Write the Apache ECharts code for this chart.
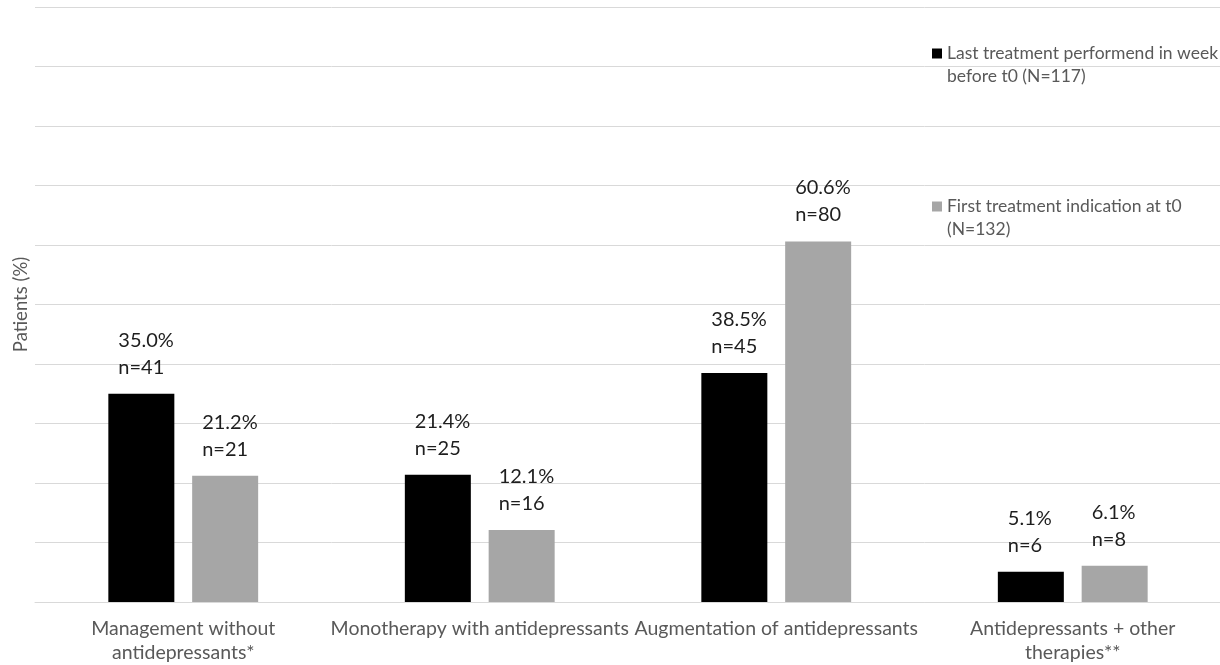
<!DOCTYPE html>
<html>
<head>
<meta charset="utf-8">
<script src="https://cdn.jsdelivr.net/npm/echarts@6/dist/echarts.min.js"></script>
<style>
  html, body { margin: 0; padding: 0; background: #fff; }
  #chart { width: 1220px; height: 665px; }
</style>
</head>
<body>
<div id="chart"></div>
<script>
// Treatment categories (x axis)
const categories = [
  'Management without\nantidepressants*',
  'Monotherapy with antidepressants',
  'Augmentation of antidepressants',
  'Antidepressants + other\ntherapies**'
];

// Series names
const seriesNames = [
  'Last treatment performend in week\nbefore t0 (N=117)',
  'First treatment indication at t0\n(N=132)'
];

// Share of patients (%) and counts per category
const lastPct = [35.0, 21.4, 38.5, 5.1];
const lastN = [41, 25, 45, 6];
const firstPct = [21.2, 12.1, 60.6, 6.1];
const firstN = [21, 16, 80, 8];

const FONT = 'Lato, "Noto Sans", sans-serif';

function barLabel(counts) {
  return {
    show: true,
    position: 'top',
    align: 'left',
    offset: [-23, 0],
    distance: 13,
    color: '#1e1e1e',
    fontFamily: FONT,
    fontSize: 20,
    lineHeight: 27,
    formatter: p => p.value.toFixed(1) + '%\nn=' + counts[p.dataIndex]
  };
}

const chart = echarts.init(document.getElementById('chart'), null, { renderer: 'canvas' });

chart.setOption({
  backgroundColor: '#ffffff',
  animation: false,
  grid: { left: 35, width: 1186, top: 7, bottom: 63, containLabel: false, outerBoundsMode: 'none' },
  legend: {
    orient: 'vertical',
    left: 932,
    top: 19,
    padding: 0,
    itemGap: 84,
    itemWidth: 10,
    itemHeight: 10,
    icon: 'rect',
    // blank leading line keeps the marker level with the first text line
    formatter: name => ' \n' + name,
    textStyle: {
      color: '#595959',
      fontFamily: FONT,
      fontSize: 17.5,
      lineHeight: 23
    },
    data: seriesNames
  },
  xAxis: {
    type: 'category',
    data: categories,
    axisLine: { lineStyle: { color: '#d9d9d9', width: 1 } },
    axisTick: { show: false },
    axisLabel: {
      interval: 0,
      color: '#595959',
      fontFamily: FONT,
      fontSize: 19.5,
      lineHeight: 23.5,
      margin: 15
    }
  },
  yAxis: {
    type: 'value',
    min: 0,
    max: 100,
    interval: 10,
    name: 'Patients (%)',
    nameLocation: 'middle',
    nameRotate: 90,
    nameGap: 4,
    nameTextStyle: { color: '#595959', fontFamily: FONT, fontSize: 18.5 },
    axisLabel: { show: false },
    axisLine: { show: false },
    axisTick: { show: false },
    splitLine: { lineStyle: { color: '#d9d9d9', width: 1 } }
  },
  series: [
    {
      name: seriesNames[0],
      type: 'bar',
      data: lastPct,
      barWidth: 66,
      barGap: '27%',
      itemStyle: { color: '#000000' },
      label: barLabel(lastN)
    },
    {
      name: seriesNames[1],
      type: 'bar',
      data: firstPct,
      barWidth: 66,
      barGap: '27%',
      itemStyle: { color: '#a6a6a6' },
      label: barLabel(firstN)
    }
  ]
});
</script>
</body>
</html>
